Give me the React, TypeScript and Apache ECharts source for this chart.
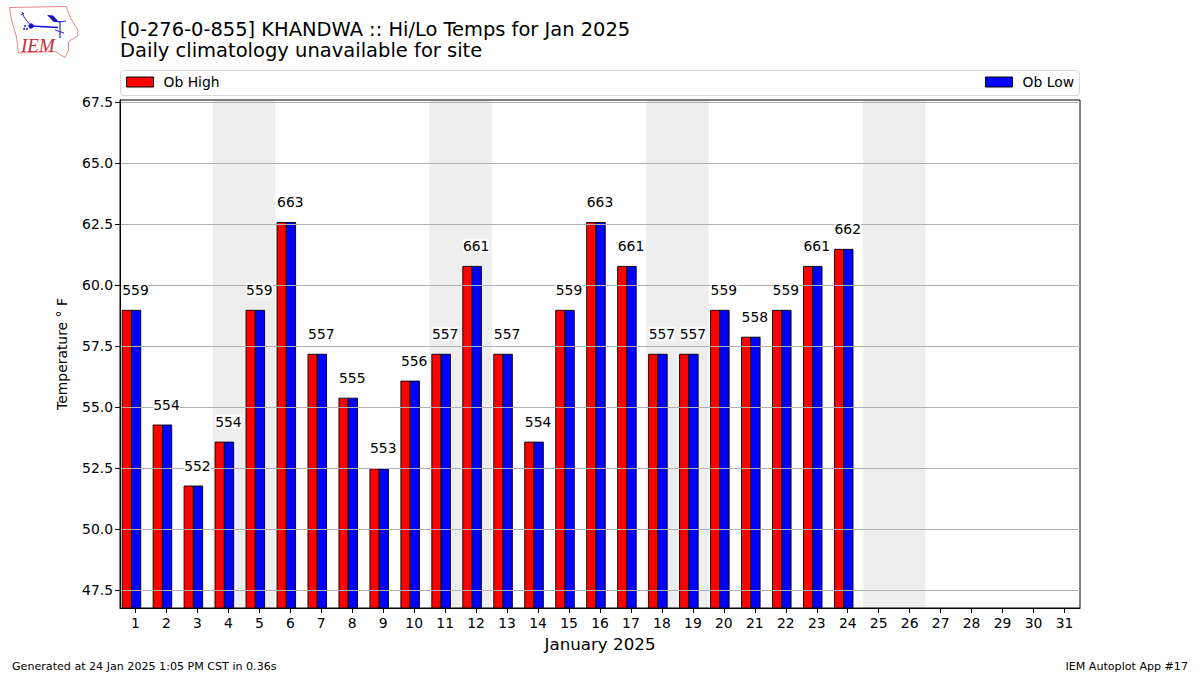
import React, { useEffect, useRef } from "react";
import * as echarts from "echarts";

const days = Array.from({ length: 31 }, (_, i) => String(i + 1));
const obHigh = [59.0, 54.3, 51.8, 53.6, 59.0, 62.6, 57.2, 55.4, 52.5, 56.1, 57.2, 60.8, 57.2, 53.6, 59.0, 62.6, 60.8, 57.2, 57.2, 59.0, 57.9, 59.0, 60.8, 61.5];
const obLow = [59.0, 54.3, 51.8, 53.6, 59.0, 62.6, 57.2, 55.4, 52.5, 56.1, 57.2, 60.8, 57.2, 53.6, 59.0, 62.6, 60.8, 57.2, 57.2, 59.0, 57.9, 59.0, 60.8, 61.5];
const barLabels = ["559", "554", "552", "554", "559", "663", "557", "555", "553", "556", "557", "661", "557", "554", "559", "663", "661", "557", "557", "559", "558", "559", "661", "662"];
const weekendDays = [4, 5, 11, 12, 18, 19, 25, 26];
const yTicks = [47.5, 50, 52.5, 55, 57.5, 60, 62.5, 65, 67.5];
const yMin = 46.78;
const yMax = 67.6;

const FONT = "DejaVu Sans";

const iowa = [[9.5, 7.5], [66, 6.5], [70.5, 18], [78, 30], [77.5, 36], [68.5, 41.5], [68.5, 50], [65, 57.5], [55, 51.5], [18.5, 53], [16.5, 37], [11.5, 20]];

export default function App() {
  const ref = useRef<HTMLDivElement>(null);
  useEffect(() => {
    const chart = echarts.init(ref.current!, undefined, { renderer: "svg" });
    const barRender = (offset: number, color: string) => (params: any, api: any) => {
      const band = api.size([1, 0])[0];
      const i = api.value(0);
      const top = api.coord([i, api.value(1)]);
      const bottom = api.coord([i, yMin]);
      const w = band * 0.3;
      return {
        type: "rect",
        shape: { x: top[0] + band * offset, y: top[1] + 0.5, width: w, height: bottom[1] - top[1] },
        style: { fill: color, stroke: "#000", lineWidth: 0.9 },
      };
    };
    const legendItem = { borderColor: "#000", borderWidth: 1 };
    chart.setOption({
      animation: false,
      textStyle: { fontFamily: FONT },
      title: [
        { text: "[0-276-0-855] KHANDWA :: Hi/Lo Temps for Jan 2025", left: 120, top: 18, padding: 0, textStyle: { fontFamily: FONT, fontSize: 19.45, fontWeight: "normal", color: "#000", lineHeight: 22 } },
        { text: "Daily climatology unavailable for site", left: 120, top: 39, padding: 0, textStyle: { fontFamily: FONT, fontSize: 19.5, fontWeight: "normal", color: "#000", lineHeight: 22 } },
      ],
      grid: { left: 120, top: 100, width: 960, height: 508, show: true, borderColor: "#000", borderWidth: 1, backgroundColor: "transparent" },
      legend: [
        { data: [{ name: "Ob High", itemStyle: legendItem }], left: 126, top: 75, padding: 0, itemWidth: 27, itemHeight: 10, itemGap: 0, icon: "rect", textStyle: { fontFamily: FONT, fontSize: 13.9, color: "#000", padding: [0, 0, 1, 5] } },
        { data: [{ name: "Ob Low", itemStyle: legendItem }], right: 126, top: 75, padding: 0, itemWidth: 27, itemHeight: 10, itemGap: 0, icon: "rect", textStyle: { fontFamily: FONT, fontSize: 13.9, color: "#000", padding: [0, 0, 1, 5] } },
      ],
      xAxis: {
        type: "category",
        data: days,
        boundaryGap: true,
        name: "January 2025",
        nameLocation: "middle",
        nameGap: 27,
        nameTextStyle: { fontFamily: FONT, fontSize: 16.7, color: "#000" },
        axisLine: { show: true, lineStyle: { color: "#000", width: 1 } },
        axisTick: { show: true, alignWithLabel: true, length: 5, lineStyle: { color: "#000" } },
        axisLabel: { interval: 0, fontFamily: FONT, fontSize: 13.9, color: "#000", margin: 8 },
        splitLine: { show: false },
      },
      yAxis: {
        type: "value",
        min: yMin,
        max: yMax,
        name: "Temperature ° F",
        nameLocation: "middle",
        nameGap: 51,
        nameTextStyle: { fontFamily: FONT, fontSize: 13.9, color: "#000" },
        axisLine: { show: true, lineStyle: { color: "#000", width: 1 } },
        axisTick: { show: true, length: 5, lineStyle: { color: "#000" }, customValues: yTicks },
        axisLabel: { fontFamily: FONT, fontSize: 13.9, color: "#000", margin: 7, customValues: yTicks, formatter: (v: number) => v.toFixed(1), showMinLabel: true, showMaxLabel: true },
        splitLine: { show: true, lineStyle: { color: "#b0b0b0", width: 1, type: "solid" } },
      },
      series: [
        {
          type: "custom",
          name: "weekend",
          z: -2,
          silent: true,
          data: weekendDays.map((d) => [d - 1]),
          encode: { x: 0 },
          renderItem: (params: any, api: any) => {
            const band = api.size([1, 0])[0];
            const p = api.coord([api.value(0), yMax]);
            const b = api.coord([api.value(0), yMin]);
            return { type: "rect", shape: { x: p[0] - band / 2, y: p[1], width: band, height: b[1] - p[1] }, style: { fill: "#eeeeee", stroke: "#eeeeee", lineWidth: 0.5 } };
          },
        },
        {
          type: "custom",
          name: "Ob High",
          z: -1,
          itemStyle: { color: "#ff0000", borderColor: "#000", borderWidth: 1 },
          data: obHigh.map((v, i) => [i, v]),
          encode: { x: 0, y: 1 },
          renderItem: barRender(-0.43, "#ff0000"),
          clip: true,
        },
        {
          type: "custom",
          name: "Ob Low",
          z: -1,
          itemStyle: { color: "#0000ff", borderColor: "#000", borderWidth: 1 },
          data: obLow.map((v, i) => [i, v]),
          encode: { x: 0, y: 1 },
          renderItem: barRender(-0.13, "#0000ff"),
          clip: true,
        },
        {
          type: "custom",
          name: "labels",
          z: 5,
          silent: true,
          data: obHigh.map((v, i) => [i, v, barLabels[i]]),
          encode: { x: 0, y: 1 },
          renderItem: (params: any, api: any) => {
            const p = api.coord([api.value(0), api.value(1)]);
            return {
              type: "text",
              x: p[0],
              y: p[1] - 20,
              style: { text: barLabels[params.dataIndex], font: `13.9px "${FONT}"`, fill: "#000", align: "center", verticalAlign: "middle", backgroundColor: "rgba(255,255,255,0.8)" },
            };
          },
        },
      ],
      graphic: [
        { type: "rect", z: -10, shape: { x: 120.5, y: 70.5, width: 959, height: 25, r: 3 }, style: { fill: "rgba(255,255,255,0.8)", stroke: "#d9d9d9", lineWidth: 1 } },
        { type: "polygon", shape: { points: iowa }, style: { fill: "#fff", stroke: "#e58a8a", lineWidth: 1 } },
        { type: "polyline", shape: { points: [[31, 26], [58, 27.5]] }, style: { stroke: "#1111dd", lineWidth: 1.6, fill: "none" } },
        { type: "circle", shape: { cx: 31, cy: 26, r: 2.7 }, style: { fill: "#1111cc" } },
        { type: "polyline", shape: { points: [[31, 26], [24, 17], [22, 12]] }, style: { stroke: "#2222dd", lineWidth: 1, fill: "none" } },
        { type: "polyline", shape: { points: [[21, 15], [24, 13]] }, style: { stroke: "#2222dd", lineWidth: 1, fill: "none" } },
        { type: "polygon", shape: { points: [[47, 15], [53, 15.5], [58, 21], [62, 22], [54, 22]] }, style: { fill: "#1111cc" } },
        { type: "polyline", shape: { points: [[58, 22], [66, 21]] }, style: { stroke: "#2222dd", lineWidth: 1, fill: "none" } },
        { type: "polyline", shape: { points: [[60, 22], [60, 38]] }, style: { stroke: "#2222dd", lineWidth: 1.2, fill: "none" } },
        { type: "polyline", shape: { points: [[55, 30], [64, 33]] }, style: { stroke: "#2222dd", lineWidth: 1, fill: "none" } },
        { type: "circle", shape: { cx: 25, cy: 26, r: 1 }, style: { fill: "#2222dd" } },
        { type: "circle", shape: { cx: 24, cy: 29, r: 1 }, style: { fill: "#2222dd" } },
        { type: "circle", shape: { cx: 27, cy: 29, r: 1 }, style: { fill: "#2222dd" } },
        { type: "text", x: 21, y: 36, style: { text: "IEM", font: 'italic 19px "Liberation Serif"', fill: "#c82c34" } },
        { type: "text", x: 12, y: 661, style: { text: "Generated at 24 Jan 2025 1:05 PM CST in 0.36s", font: `11.1px "${FONT}"`, fill: "#000" } },
        { type: "text", x: 1188, y: 661, style: { text: "IEM Autoplot App #17", font: `11.1px "${FONT}"`, fill: "#000", align: "right" } },
      ],
    });
    return () => chart.dispose();
  }, []);
  return <div ref={ref} style={{ position: "fixed", left: 0, top: 0, width: 1200, height: 675, background: "#fff" }} />;
}
